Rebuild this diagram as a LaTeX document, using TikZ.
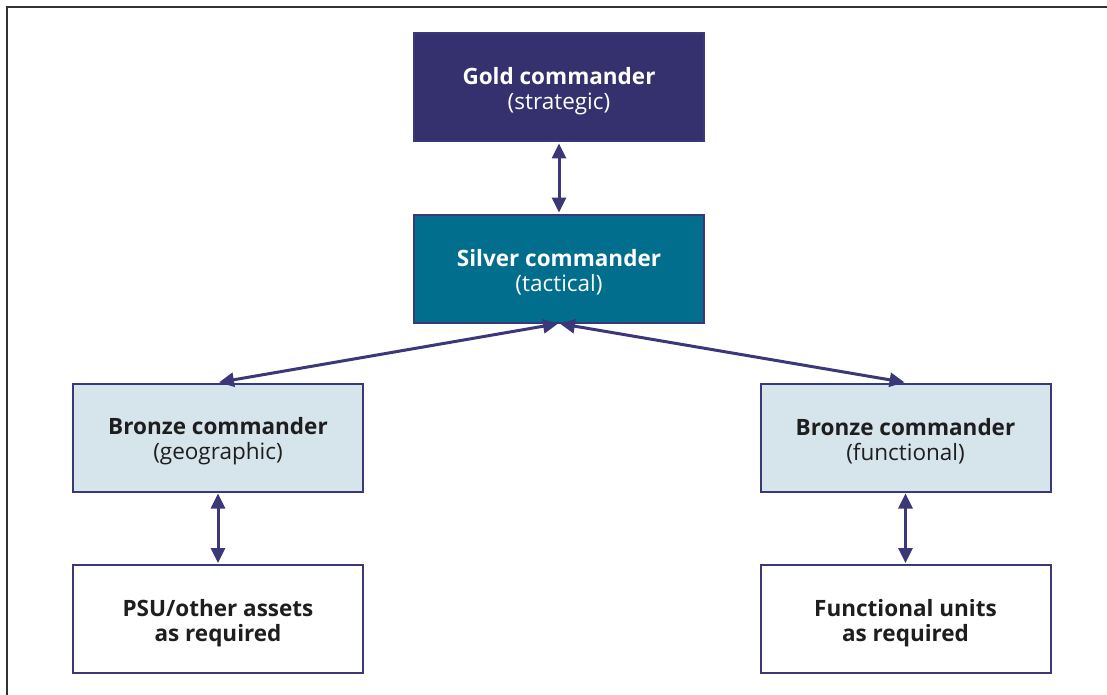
\documentclass[tikz,border=0pt]{standalone}
\usepackage{fontspec}
\setmainfont{Open Sans}
\usetikzlibrary{arrows.meta}
\definecolor{gold}{HTML}{35306E}
\definecolor{silver}{HTML}{016E8E}
\definecolor{bronze}{HTML}{D6E4EC}
\definecolor{edge}{HTML}{3A3878}
\definecolor{frame}{HTML}{333333}
\definecolor{txt}{HTML}{1E1E1E}
\newcommand{\topstrut}{\rule{0pt}{25pt}}
\begin{document}
\begin{tikzpicture}[x=1pt,y=-1pt,
  box/.style={draw=edge,line width=2pt,minimum width=290pt,minimum height=108pt,align=center,font=\fontsize{22.5}{25}\selectfont,inner sep=0pt},
  link/.style={edge,line width=3pt,{Triangle[length=15pt,width=14pt]}-{Triangle[length=15pt,width=14pt]},shorten <=1pt,shorten >=1pt}]
\useasboundingbox (0,0) rectangle (1107,695);
\draw[frame,line width=2.2pt] (7,697) -- (7,7) -- (1109,7);
\node[box,fill=gold,text=white] (gold) at (559,87.5) {\topstrut\textbf{Gold commander}\\(strategic)};
\node[box,fill=silver,text=white] (silver) at (559,268.5) {\topstrut\textbf{Silver commander}\\(tactical)};
\node[box,fill=bronze,text=txt] (bl) at (218,437.5) {\topstrut\textbf{Bronze commander}\\(geographic)};
\node[box,fill=bronze,text=txt] (br) at (905.5,437.5) {\topstrut\textbf{Bronze commander}\\(functional)};
\node[box,fill=white,text=txt] (psu) at (218,619) {\topstrut\textbf{PSU/other assets}\\\textbf{as required}};
\node[box,fill=white,text=txt] (fu) at (905.5,619) {\topstrut\textbf{Functional units}\\\textbf{as required}};
\draw[link] (gold.south) -- (silver.north);
\draw[link] (silver.south) -- (bl.north);
\draw[link] (silver.south) -- (br.north);
\draw[link] (bl.south) -- (psu.north);
\draw[link] (br.south) -- (fu.north);
\end{tikzpicture}
\end{document}
